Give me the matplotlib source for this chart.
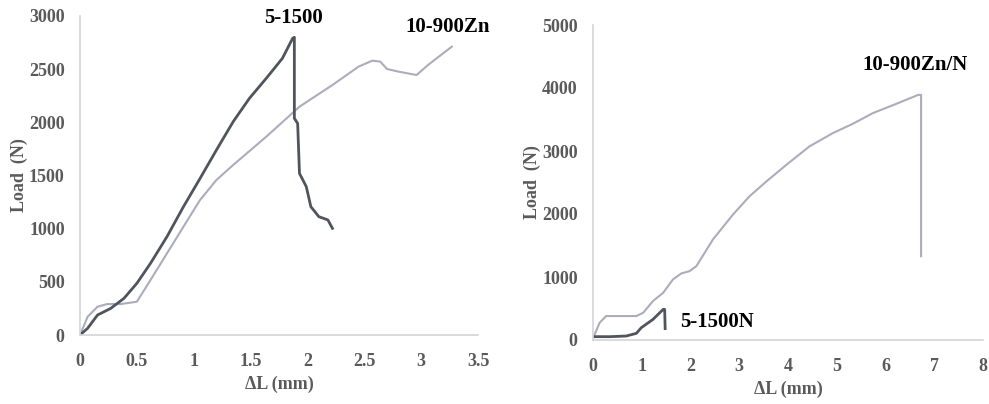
import matplotlib
matplotlib.use('Agg')
import matplotlib.pyplot as plt

# load-elongation curves, plain samples (left)
dl_5_1500 = [0, 0.067, 0.154, 0.27, 0.387, 0.50, 0.62, 0.765, 0.91, 1.056, 1.2, 1.347,
             1.49, 1.638, 1.78, 1.87, 1.885, 1.885, 1.914, 1.93, 1.99, 2.03, 2.1, 2.18, 2.22]
load_5_1500 = [0, 63, 188, 250, 345, 486, 674, 925, 1207, 1473, 1740, 2006,
               2226, 2414, 2602, 2790, 2800, 2038, 1990, 1520, 1395, 1207, 1113, 1082, 1003]

dl_10_900zn = [0, 0.067, 0.154, 0.24, 0.358, 0.5, 0.62, 0.765, 0.91, 1.056, 1.2, 1.347,
               1.638, 1.93, 2.22, 2.45, 2.57, 2.64, 2.7, 2.8, 2.96, 3.06, 3.27]
load_10_900zn = [0, 172, 266, 291, 291, 313, 517, 768, 1019, 1270, 1458, 1599,
                 1865, 2147, 2351, 2524, 2580, 2571, 2502, 2477, 2445, 2539, 2712]

# nitrided samples (right)
dl_10_900znn = [0.02, 0.137, 0.27, 0.48, 0.89, 1.03, 1.23, 1.44, 1.64, 1.81, 1.98, 2.12,
                2.46, 2.87, 3.21, 3.56, 3.97, 4.44, 4.92, 5.33, 5.74, 6.29, 6.67, 6.73, 6.73]
load_10_900znn = [63, 275, 380, 380, 380, 433, 618, 750, 961, 1056, 1093, 1172,
                  1595, 1990, 2281, 2519, 2783, 3073, 3284, 3432, 3601, 3770, 3891, 3891, 1331]

dl_5_1500n = [0.02, 0.34, 0.68, 0.89, 0.99, 1.23, 1.44, 1.47, 1.48]
load_5_1500n = [53, 53, 63, 106, 195, 327, 486, 486, 180]

left_xticks = [0, 0.5, 1, 1.5, 2, 2.5, 3, 3.5]
left_xticklabels = ['0', '0.5', '1', '1.5', '2', '2.5', '3', '3.5']
left_yticks = [0, 500, 1000, 1500, 2000, 2500, 3000]
right_xticks = [0, 1, 2, 3, 4, 5, 6, 7, 8]
right_yticks = [0, 1000, 2000, 3000, 4000, 5000]

dark = '#50555d'
light = '#acacbc'
grey_txt = '#5a5a5a'
spine = '#d4d4d8'

plt.rcParams['font.family'] = ['Liberation Serif', 'DejaVu Serif']
plt.rcParams['font.weight'] = 'bold'

fig = plt.figure(figsize=(9.89, 4.04), dpi=100)
ax1 = fig.add_axes([80 / 989, 69 / 404, 398 / 989, 319 / 404])
ax2 = fig.add_axes([593 / 989, 64 / 404, 390 / 989, 315 / 404])


def style(ax, xticks, xlabels, yticks):
    for s in ('top', 'right'):
        ax.spines[s].set_visible(False)
    for s in ('left', 'bottom'):
        ax.spines[s].set_color(spine)
        ax.spines[s].set_linewidth(1.2)
    ax.set_xticks(xticks)
    ax.set_xticklabels(xlabels)
    ax.set_yticks(yticks)
    ax.tick_params(length=0, labelsize=13, colors=grey_txt)
    ax.tick_params(axis='x', pad=13)
    ax.tick_params(axis='y', pad=11)
    for lab in ax.get_xticklabels() + ax.get_yticklabels():
        lab.set_fontweight('bold')
    ax.set_xlabel('ΔL (mm)', fontsize=13, color=grey_txt, fontweight='bold', labelpad=4)
    ax.set_ylabel('Load  (N)', fontsize=13, color=grey_txt, fontweight='bold', labelpad=1)


ax1.plot(dl_10_900zn, load_10_900zn, color=light, lw=1.5)
ax1.plot(dl_5_1500, load_5_1500, color=dark, lw=2)
ax1.set_xlim(0, 3.5)
ax1.set_ylim(0, 3000)
style(ax1, left_xticks, left_xticklabels, left_yticks)
ax1.text(1.877, 2985, '5-1500', ha='center', va='center', fontsize=15, fontweight='bold')
ax1.text(3.23, 2900, '10-900Zn', ha='center', va='center', fontsize=15, fontweight='bold',
         clip_on=False)

ax2.plot(dl_10_900znn, load_10_900znn, color=light, lw=1.5)
ax2.plot(dl_5_1500n, load_5_1500n, color=dark, lw=2)
ax2.set_xlim(0, 8)
ax2.set_ylim(0, 5000)
style(ax2, right_xticks, [str(t) for t in right_xticks], right_yticks)
ax2.text(6.6, 4365, '10-900Zn/N', ha='center', va='center', fontsize=15, fontweight='bold')
ax2.text(2.54, 290, '5-1500N', ha='center', va='center', fontsize=15, fontweight='bold')

fig.savefig('out.png', dpi=100)
